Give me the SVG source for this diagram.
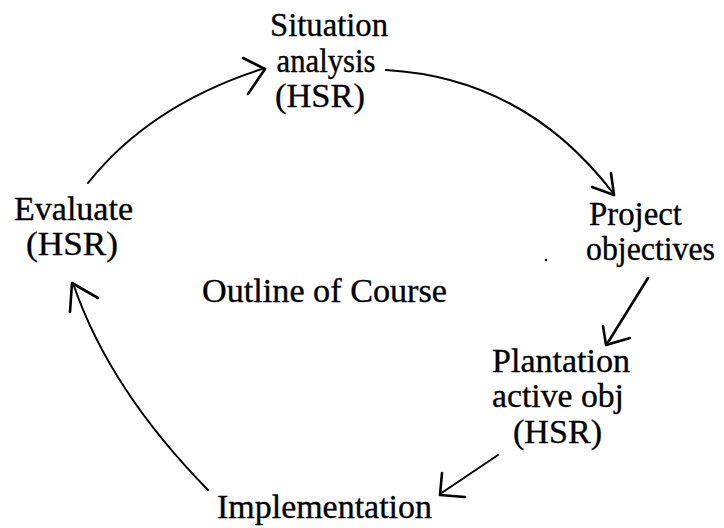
<svg xmlns="http://www.w3.org/2000/svg" width="724" height="528" viewBox="0 0 724 528">
<style>
text{font-family:"Liberation Serif","Times New Roman",serif;font-size:34px;fill:#000;stroke:#000;stroke-width:0.35;}
.c{fill:none;stroke:#000;stroke-linecap:round;stroke-linejoin:round;}
.t{stroke-width:2}
.h{stroke-width:2.6}
</style>
<rect width="724" height="528" fill="#fff"/>
<g id="connectors">
<path class="c t" d="M88,183 Q150,105 262,69"/>
<path class="c h" d="M243,58 L265,69 L248,94"/>
<path class="c t" d="M386,70 Q525,78 613,193"/>
<path class="c h" d="M592,187 L614,195 L611,173"/>
<path class="c h" d="M648,278 L607,344"/>
<path class="c h" d="M603,326 L606,345 L630,338"/>
<path class="c t" d="M498,455 L440,494"/>
<path class="c h" d="M442,473 L440,495 L465,497"/>
<path class="c t" d="M208,490 Q110,390 74,286"/>
<path class="c h" d="M70,312 L72,283 L98,298"/>
</g>
<g id="situation"><text x="329" y="36" text-anchor="middle" textLength="118" lengthAdjust="spacingAndGlyphs">Situation</text><text x="326" y="72" text-anchor="middle" textLength="99" lengthAdjust="spacingAndGlyphs">analysis</text><text x="320" y="107" text-anchor="middle" textLength="90" lengthAdjust="spacingAndGlyphs">(HSR)</text></g>
<g id="project"><text x="589" y="225" textLength="93" lengthAdjust="spacingAndGlyphs">Project</text><text x="586" y="260" textLength="129" lengthAdjust="spacingAndGlyphs">objectives</text></g>
<g id="plantation"><text x="492" y="372" textLength="138" lengthAdjust="spacingAndGlyphs">Plantation</text><text x="492" y="407" textLength="132" lengthAdjust="spacingAndGlyphs">active obj</text><text x="513" y="443" textLength="89" lengthAdjust="spacingAndGlyphs">(HSR)</text></g>
<g id="implementation"><text x="217" y="518" textLength="215" lengthAdjust="spacingAndGlyphs">Implementation</text></g>
<g id="evaluate"><text x="14" y="220" textLength="119" lengthAdjust="spacingAndGlyphs">Evaluate</text><text x="26" y="255" textLength="92" lengthAdjust="spacingAndGlyphs">(HSR)</text></g>
<g id="title"><text x="202" y="302" textLength="245" lengthAdjust="spacingAndGlyphs">Outline of Course</text></g>
<circle cx="546" cy="260" r="1.2" fill="#000"/>
</svg>
